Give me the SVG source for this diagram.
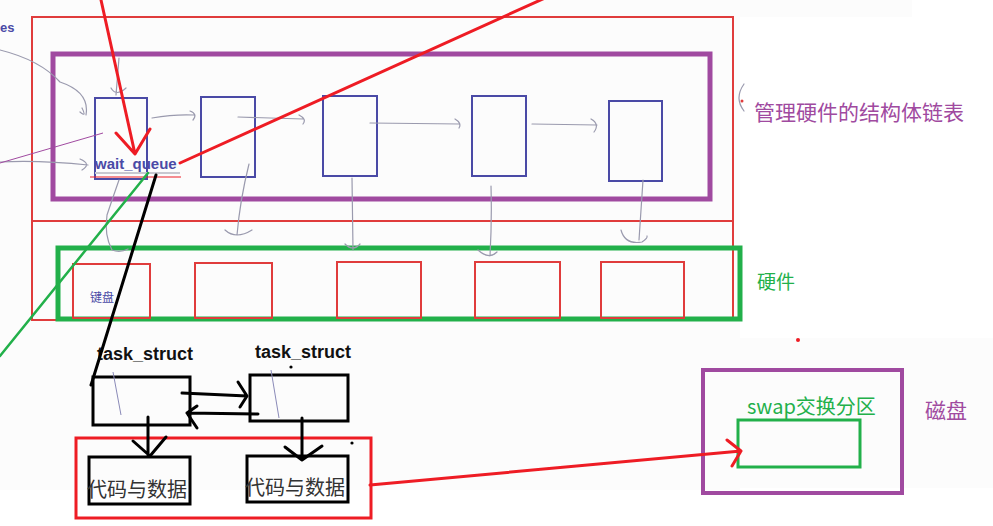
<svg xmlns="http://www.w3.org/2000/svg" width="993" height="526" viewBox="0 0 993 526">
<style>
.bg{fill:#fcfcfc}
.redthin{fill:none;stroke:#e03c3c;stroke-width:2}
.purple{fill:none;stroke:#a04aa0;stroke-width:5}
.green{fill:none;stroke:#22b04a;stroke-width:5}
.bluebox{fill:none;stroke:#4a4aa6;stroke-width:2}
.hw{fill:none;stroke:#e03c3c;stroke-width:2}
.blk{fill:none;stroke:#000;stroke-width:3}
.gray{fill:none;stroke:#9a9aae;stroke-width:1.2;stroke-linecap:round}
.pen-red{fill:none;stroke:#ee1c24;stroke-width:3;stroke-linecap:round;stroke-linejoin:round}
.pen-blk{fill:none;stroke:#000;stroke-width:3;stroke-linecap:round;stroke-linejoin:round}
.cjk{font-family:"Noto Sans CJK SC","Liberation Sans",sans-serif}
.lat{font-family:"Liberation Sans","DejaVu Sans",sans-serif}
</style>
<rect x="0" y="0" width="993" height="526" fill="#ffffff"/>
<rect class="bg" x="0" y="0" width="912" height="17"/>
<rect class="bg" x="0" y="17" width="740" height="473"/>
<rect class="bg" x="680" y="338" width="313" height="150"/>

<g id="struct-list-area">
  <rect class="redthin" x="32" y="17" width="701" height="303"/>
  <line class="redthin" x1="32" y1="221" x2="733" y2="221"/>
  <rect class="purple" x="53" y="54" width="657" height="145"/>
</g>

<g id="struct1"><rect class="bluebox" x="95" y="98" width="52" height="81"/></g>
<g id="struct2"><rect class="bluebox" x="201" y="97" width="54" height="80"/></g>
<g id="struct3"><rect class="bluebox" x="323" y="96" width="54" height="80"/></g>
<g id="struct4"><rect class="bluebox" x="472" y="96" width="54" height="80"/></g>
<g id="struct5"><rect class="bluebox" x="609" y="101" width="53" height="80"/></g>

<g id="hardware">
  <rect class="green" x="58" y="248" width="682" height="71"/>
  <rect class="hw" x="73" y="264" width="77" height="54"/>
  <rect class="hw" x="195" y="263" width="77" height="55"/>
  <rect class="hw" x="337" y="262" width="84" height="56"/>
  <rect class="hw" x="475" y="262" width="85" height="56"/>
  <rect class="hw" x="601" y="262" width="83" height="56"/>
  <text class="cjk" x="90" y="302" font-size="12" fill="#4a4aa6">键盘</text>
</g>

<g id="labels">
  <text class="lat" x="0" y="32" font-size="13" font-weight="bold" fill="#4a4aa6">es</text>
  <text class="lat" x="95" y="169" font-size="15" font-weight="bold" fill="#4a4aa6">wait_queue</text>
  <text class="cjk" x="754" y="120" font-size="21" fill="#a04aa0">管理硬件的结构体链表</text>
  <text class="cjk" x="757" y="289" font-size="19" fill="#22b04a">硬件</text>
  <text class="lat" x="97" y="360" font-size="18" font-weight="bold" fill="#111">task_struct</text>
  <text class="lat" x="255" y="358" font-size="18" font-weight="bold" fill="#111">task_struct</text>
  <text class="cjk" x="747" y="414" font-size="20" fill="#22b04a">swap交换分区</text>
  <text class="cjk" x="925" y="418" font-size="21" fill="#a04aa0">磁盘</text>
</g>

<g id="task1"><rect class="blk" x="93" y="377" width="97" height="48"/><line x1="113" y1="372" x2="121" y2="415" stroke="#8a8ab8" stroke-width="1"/></g>
<g id="task2"><rect class="blk" x="250" y="375" width="98" height="46"/><line x1="271" y1="370" x2="279" y2="418" stroke="#8a8ab8" stroke-width="1"/></g>

<g id="memory">
  <rect fill="none" stroke="#ee1c24" stroke-width="3" x="76" y="438" width="295" height="80"/>
</g>
<g id="code1">
  <rect class="blk" x="89" y="457" width="101" height="47"/>
  <text class="cjk" x="87" y="497" font-size="20" fill="#333">代码与数据</text>
</g>
<g id="code2">
  <rect class="blk" x="247" y="456" width="101" height="46"/>
  <text class="cjk" x="245" y="495" font-size="20" fill="#333">代码与数据</text>
</g>

<g id="disk">
  <rect fill="none" stroke="#a04aa0" stroke-width="4" x="703" y="370" width="199" height="123"/>
  <rect fill="none" stroke="#22b04a" stroke-width="3" x="738" y="420" width="122" height="47"/>
</g>

<g id="connectors">
  <path class="gray" d="M152 118 Q175 114 194 115 M190 111 Q198 114 193 120"/>
  <path class="gray" d="M238 117 L303 119 M299 115 Q307 119 303 124"/>
  <path class="gray" d="M370 123 L460 124 M455 119 Q462 123 459 128"/>
  <path class="gray" d="M532 124 L597 125 M591 119 Q600 124 594 132"/>
  <path class="gray" d="M119 180 Q112 200 107 215 Q104 235 112 250 Q120 253 128 249"/>
  <path class="gray" d="M249 164 Q240 200 237 235 M225 230 Q236 240 252 230"/>
  <path class="gray" d="M352 178 L353 250 M345 244 Q353 252 360 244"/>
  <path class="gray" d="M491 186 Q492 220 490 256 M478 250 Q489 260 497 252"/>
  <path class="gray" d="M643 180 L639 240 M621 230 Q625 245 642 242 Q648 238 647 236"/>
  <path class="gray" d="M0 50 Q40 60 60 82 Q90 92 86 115 M82 108 Q87 118 80 112"/>
  <path class="gray" d="M0 162 Q40 160 88 165 M80 159 Q92 164 82 170"/>
  <line x1="0" y1="163" x2="103" y2="133" stroke="#a04aa0" stroke-width="1"/>
  <path class="gray" d="M119 58 L116 95 M111 88 Q116 97 126 88"/>
  <path class="gray" d="M744 84 Q734 98 744 111"/>
  <circle cx="742" cy="101" r="1.5" fill="#e03c3c"/>
  <line x1="95" y1="173" x2="180" y2="173" stroke="#c8c8d0" stroke-width="2"/>
  <line x1="90" y1="177" x2="181" y2="177" stroke="#ee1c24" stroke-width="1"/>
  <path class="pen-red" d="M101 0 L135 154 M116 133 L135 154 L150 129"/>
  <path class="pen-red" d="M180 163 L545 -2"/>
  <path d="M148 173 L0 356" fill="none" stroke="#22b04a" stroke-width="2.5" stroke-linecap="round"/>
  <path class="pen-blk" d="M156 175 L105 340 L92 382 L91 385"/>
  <path class="pen-blk" d="M182 393 L247 396 M238 382 L247 396 L240 407"/>
  <path class="pen-blk" d="M258 414 L187 413 M197 406 L187 413 L197 428"/>
  <path class="pen-blk" d="M148 417 L148 455 M133 441 L150 456 L166 437"/>
  <path class="pen-blk" d="M302 418 L302 460 M285 447 L302 460 L322 446"/>
  <circle cx="291" cy="367" r="1.6" fill="#000"/>
  <circle cx="352" cy="443" r="1.6" fill="#000"/>
  <circle cx="798" cy="340" r="2" fill="#ee1c24"/>
  <path class="pen-red" d="M370 485 L741 451 M727 440 L741 451 L732 466"/>
</g>
</svg>
